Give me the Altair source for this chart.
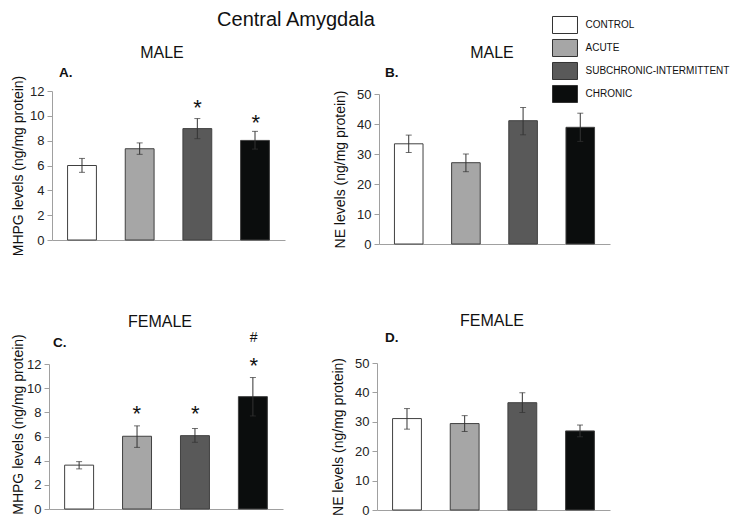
import altair as alt
import pandas as pd

# ---------------- data ----------------
groups = ["CONTROL", "ACUTE", "SUBCHRONIC-INTERMITTENT", "CHRONIC"]
fills = ["#ffffff", "#a6a6a6", "#595959", "#0b0d0d"]

mhpg_male = [6.0, 7.35, 8.97, 8.02]
mhpg_male_lo = [5.45, 6.9, 8.16, 7.32]
mhpg_male_hi = [6.57, 7.82, 9.78, 8.75]

ne_male = [33.4, 27.1, 41.1, 38.9]
ne_male_lo = [30.5, 24.1, 36.4, 34.2]
ne_male_hi = [36.3, 30.0, 45.5, 43.6]

mhpg_female = [3.63, 6.02, 6.07, 9.3]
mhpg_female_lo = [3.32, 5.1, 5.52, 7.7]
mhpg_female_hi = [3.92, 6.88, 6.66, 10.88]

ne_female = [31.1, 29.4, 36.5, 26.9]
ne_female_lo = [27.5, 26.7, 33.2, 24.9]
ne_female_hi = [34.5, 32.1, 39.9, 28.9]

# significance marks: group, symbol, level (data units)
sig_a_groups = ["SUBCHRONIC-INTERMITTENT", "CHRONIC"]
sig_a_syms = ["*", "*"]
sig_a_levels = [11.1, 9.9]
sig_c_groups = ["ACUTE", "SUBCHRONIC-INTERMITTENT", "CHRONIC", "CHRONIC"]
sig_c_syms = ["*", "*", "*", "#"]
sig_c_levels = [8.3, 8.3, 12.3, 14.2]

mhpg_title = "MHPG levels (ng/mg protein)"
ne_title = "NE levels (ng/mg protein)"
mhpg_ticks = [0, 2, 4, 6, 8, 10, 12]
ne_ticks = [0, 10, 20, 30, 40, 50]

FONT = "Liberation Sans"
W, H = 722, 509
AX = "#a0a0a0"

legend = alt.Legend(
    orient="none", legendX=545.5, legendY=5.5, title=None,
    symbolType="M-1.136,-0.773L1.136,-0.773L1.136,0.773L-1.136,0.773Z",
    symbolSize=484, symbolStrokeColor="#333333", symbolStrokeWidth=1,
    symbolOpacity=1, labelLimit=0,
    labelFont=FONT, labelFontSize=10, labelColor="#111111",
    labelOffset=9, rowPadding=0, padding=0,
)


def panel(vals, lo, hi, ymax, ticks, xr, yr, ytitle, tpad, x_off, y_off,
          sg=None, ss=None, sl=None, title_y=None):
    df = pd.DataFrame({"group": groups, "value": vals, "lo": lo, "hi": hi})
    xs = alt.Scale(domain=groups, range=xr, paddingInner=0.5, paddingOuter=0.27)
    ys = alt.Scale(domain=[0, ymax], range=yr, nice=False, zero=True)
    xaxis = alt.Axis(orient="bottom", offset=x_off, labels=False, ticks=False,
                     title=None, grid=False, domain=True, domainColor=AX,
                     domainWidth=1)
    ax_kw = dict(orient="left", offset=y_off, values=ticks, title=ytitle,
                 grid=False, domain=True, domainColor=AX, tickColor=AX,
                 tickSize=5, labelFont=FONT, labelFontSize=13,
                 labelColor="#222222", labelPadding=3, titleFont=FONT,
                 titleFontSize=14, titleFontWeight="normal",
                 titleColor="#111111", titlePadding=tpad)
    if title_y is not None:
        ax_kw["titleY"] = title_y
    yaxis = alt.Axis(**ax_kw)
    base = alt.Chart(df)
    bars = base.mark_bar(stroke="#404040", strokeWidth=1).encode(
        x=alt.X("group:N", scale=xs, axis=xaxis, sort=groups),
        y=alt.Y("value:Q", scale=ys, axis=yaxis),
        fill=alt.Fill("group:N", scale=alt.Scale(domain=groups, range=fills),
                      legend=legend),
    )
    xn = alt.X("group:N", scale=xs, axis=None, sort=groups)
    rule = base.mark_rule(color="#333333", strokeWidth=1).encode(
        x=xn, y=alt.Y("lo:Q", scale=ys, axis=None), y2="hi:Q")
    cap_lo = base.mark_tick(color="#333333", thickness=1, size=6,
                            orient="horizontal").encode(
        x=xn, y=alt.Y("lo:Q", scale=ys, axis=None))
    cap_hi = base.mark_tick(color="#333333", thickness=1, size=6,
                            orient="horizontal").encode(
        x=xn, y=alt.Y("hi:Q", scale=ys, axis=None))
    layers = [bars, rule, cap_lo, cap_hi]
    if sg:
        sdf = pd.DataFrame({"group": sg, "sym": ss, "level": sl})
        star = alt.Chart(sdf).transform_filter(alt.datum.sym == "*").mark_text(
            font=FONT, fontSize=22, baseline="alphabetic", dy=12.5,
            color="#111111").encode(
            x=xn, y=alt.Y("level:Q", scale=ys, axis=None), text="sym:N")
        hsh = alt.Chart(sdf).transform_filter(alt.datum.sym == "#").mark_text(
            font=FONT, fontSize=14, baseline="alphabetic", dy=5,
            color="#111111").encode(
            x=xn, y=alt.Y("level:Q", scale=ys, axis=None), text="sym:N")
        layers += [star, hsh]
    return layers


pA = panel(mhpg_male, mhpg_male_lo, mhpg_male_hi, 12, mhpg_ticks,
           [44, 277], [232, 83], mhpg_title, 4, 232 - H, -44,
           sig_a_groups, sig_a_syms, sig_a_levels)
pB = panel(ne_male, ne_male_lo, ne_male_hi, 50, ne_ticks,
           [371, 602], [236, 86], ne_title, 9, 236 - H, -371)
pC = panel(mhpg_female, mhpg_female_lo, mhpg_female_hi, 12, mhpg_ticks,
           [41, 275], [501, 356], mhpg_title, 1, 501 - H, -41,
           sig_c_groups, sig_c_syms, sig_c_levels, title_y=416)
pD = panel(ne_female, ne_female_lo, ne_female_hi, 50, ne_ticks,
           [369, 602], [502, 355], ne_title, 9, 502 - H, -369)


def label(text, x, y, size, weight="normal", align="center"):
    return alt.Chart(pd.DataFrame({"t": [text]})).mark_text(
        x=x, y=y, fontSize=size, fontWeight=weight, align=align,
        baseline="alphabetic", font=FONT, color="#111111").encode(text="t:N")


main_title = "Central Amygdala"
sex_titles = ["MALE", "MALE", "FEMALE", "FEMALE"]
panel_tags = ["A.", "B.", "C.", "D."]

texts = [
    label(main_title, 288, 18, 20),
    label(sex_titles[0], 154, 50, 16),
    label(sex_titles[1], 484, 50, 16),
    label(sex_titles[2], 152, 319, 16),
    label(sex_titles[3], 484, 318, 16),
    label(panel_tags[0], 51, 69, 13.5, "bold", "left"),
    label(panel_tags[1], 377, 69, 13.5, "bold", "left"),
    label(panel_tags[2], 45, 339, 13.5, "bold", "left"),
    label(panel_tags[3], 377, 334, 13.5, "bold", "left"),
]

chart = alt.layer(*pA, *pB, *pC, *pD, *texts).resolve_scale(
    x="independent", y="independent"
).properties(
    width=W, height=H, padding=0, autosize="none", background="white"
).configure_view(stroke=None)

chart.save("out.html", embed_options={"renderer": "svg", "actions": False})
